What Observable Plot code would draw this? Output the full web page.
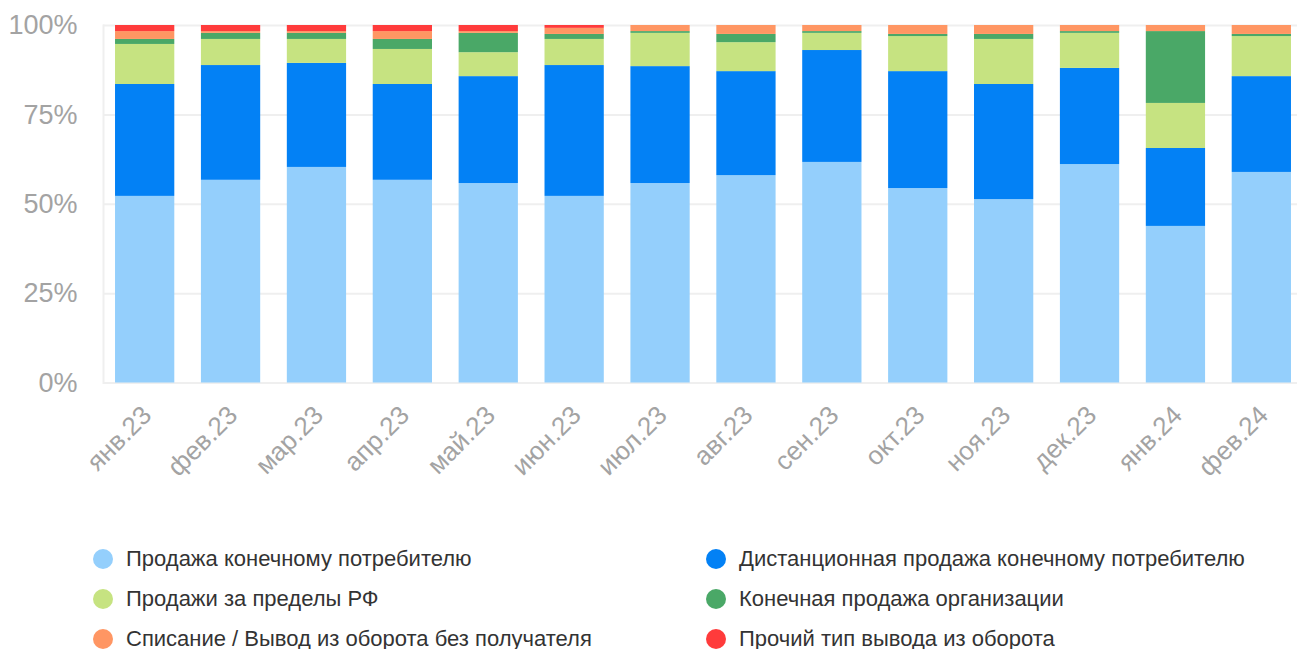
<!DOCTYPE html>
<html><head><meta charset="utf-8">
<script src="https://cdn.jsdelivr.net/npm/d3@7"></script>
<script src="https://cdn.jsdelivr.net/npm/@observablehq/plot@0.6"></script>
<style>
html,body{margin:0;padding:0;background:#fff;overflow:hidden;}
body{font-family:"Liberation Sans",Arial,Helvetica,sans-serif;}
#chart svg{display:block;}
#legend{display:grid;grid-template-columns:613px 580px;margin-left:93px;margin-top:9px;}
.item{display:flex;align-items:center;height:40px;font-size:22px;color:#333;white-space:nowrap;}
.dot{width:20px;height:20px;border-radius:50%;margin-right:13px;flex:none;}
</style></head><body>
<div id="chart"></div>
<div id="legend"></div>
<script>
const months = ["янв.23","фев.23","мар.23","апр.23","май.23","июн.23","июл.23","авг.23","сен.23","окт.23","ноя.23","дек.23","янв.24","фев.24"];
const seriesNames = [
  "Продажа конечному потребителю",
  "Дистанционная продажа конечному потребителю",
  "Продажи за пределы РФ",
  "Конечная продажа организации",
  "Списание / Вывод из оборота без получателя",
  "Прочий тип вывода из оборота"
];
const colors = ["#94cffc","#0381f5","#c6e381","#4aa867","#ff9663","#ff3b3b"];
const retail      = [52.2,56.7,60.3,56.7,55.8,52.2,55.8,58.0,61.7,54.4,51.3,61.1,43.8,58.9];
const remote      = [31.3,32.1,29.1,26.8,29.9,36.6,32.7,29.1,31.3,32.7,32.2,26.9,21.8,26.8];
const export_     = [11.2,7.3,6.7,9.8,6.7,7.3,9.3,8.1,4.8,9.8,12.6,9.8,12.6,11.2];
const orgSale     = [1.4,1.7,1.7,2.8,5.4,1.4,0.5,2.3,0.5,0.6,1.4,0.5,20.1,0.6];
const writeOff    = [2.2,0.5,0.5,2.2,0.5,1.7,1.7,2.5,1.7,2.5,2.5,1.7,1.7,2.5];
const otherOut    = [1.7,1.7,1.7,1.7,1.7,0.8,0,0,0,0,0,0,0,0];
const seriesValues = [retail, remote, export_, orgSale, writeOff, otherOut];
const yTicks = [0,25,50,75,100];

const data = [];
seriesValues.forEach((vals, si) => {
  vals.forEach((v, mi) => data.push({month: months[mi], series: seriesNames[si], value: v}));
});

const chart = Plot.plot({
  width: 1297,
  height: 530,
  marginTop: 25,
  marginBottom: 147.5,
  marginLeft: 103,
  marginRight: -6,
  style: {fontFamily: '"Liberation Sans", Arial, sans-serif', background: "#fff", overflow: "visible"},
  x: {domain: months, paddingInner: 0.31, paddingOuter: 0.14, round: false, label: null},
  y: {domain: [0, 100], label: null},
  color: {domain: seriesNames, range: colors},
  marks: [
    Plot.ruleY(yTicks, {stroke: "#efefef", strokeWidth: 2}),
    Plot.frame({anchor: "left", stroke: "#efefef", strokeWidth: 2}),
    Plot.barY(data, {x: "month", y: "value", fill: "series", order: seriesNames}),
    Plot.axisY(yTicks, {tickSize: 0, tickPadding: 26, tickFormat: d => d + "%", fontSize: 27, color: "#a3a3a3", label: null}),
    Plot.axisX({tickSize: 0, tickPadding: 28, tickRotate: -45, fontSize: 26, color: "#a3a3a3", dx: 2, label: null})
  ]
});
document.getElementById("chart").appendChild(chart);

const legend = document.getElementById("legend");
seriesNames.forEach((name, i) => {
  const it = document.createElement("div");
  it.className = "item";
  const dot = document.createElement("span");
  dot.className = "dot";
  dot.style.background = colors[i];
  const t = document.createElement("span");
  t.textContent = name;
  it.appendChild(dot); it.appendChild(t);
  legend.appendChild(it);
});
</script>
</body></html>
